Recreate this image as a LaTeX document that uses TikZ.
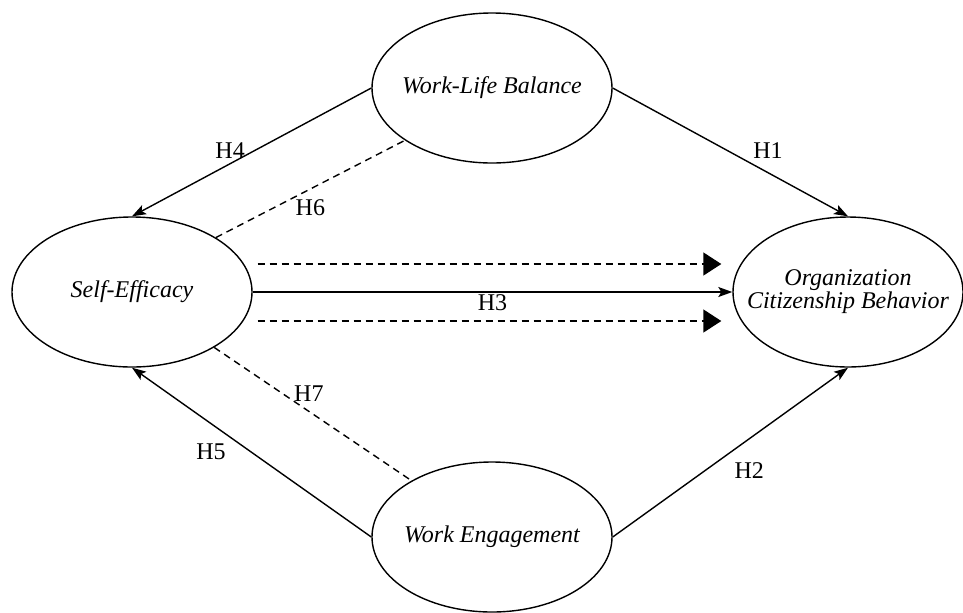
\documentclass[tikz,border=0pt]{standalone}
\usepackage{fontspec}
\setmainfont{Liberation Serif}
\usetikzlibrary{shapes,arrows.meta}

\newcommand{\constructname}[1]{\makebox[0pt]{\begin{tabular}{@{}c@{}}#1\end{tabular}}}

\begin{document}
\begin{tikzpicture}[x=0.5pt,y=-0.5pt, line width=0.7pt, >={Stealth[length=7pt,width=5pt,inset=1.5pt]},
  latent/.style={draw,ellipse,minimum width=120pt,minimum height=75pt,inner sep=0pt,font=\fontsize{12}{11}\selectfont\itshape},
  hyp/.style={font=\fontsize{12}{14}\selectfont,inner sep=1pt},
  mediation/.style={dash pattern=on 3.5pt off 2.5pt},
  bigtip/.style={-{Triangle[length=9pt,width=11.5pt]}}]
  \useasboundingbox (0,0) rectangle (963,612);

  \node[latent] (wlb) at (492,88) {\constructname{Work-Life Balance}};
  \node[latent] (se) at (132,292) {\constructname{Self-Efficacy}};
  \node[latent, minimum width=115pt] (ocb) at (848,292) {\constructname{Organization\\Citizenship Behavior}};
  \node[latent] (we) at (492,537) {\constructname{Work Engagement}};

  % direct paths
  \draw[->] (wlb.east) -- node[hyp,pos=.66,above=5.5pt] (h1) {H1} (ocb.north);
  \draw[->] (we.east) -- node[hyp,pos=.58,below=10.5pt] (h2) {H2} (ocb.south);
  \draw[->] (se.east) -- node[hyp,below=0pt] (h3) {H3} (ocb.west);
  \draw[->] (wlb.west) -- node[hyp,pos=.59,above=1.5pt] (h4) {H4} (se.north);
  \draw[->] (we.west) -- node[hyp,pos=.67,below=9pt] (h5) {H5} (se.south);

  % mediation
  \draw[mediation] (se.33) -- node[hyp,pos=.5,below=4pt] (h6) {H6} (wlb.211);
  \draw[mediation] (se.-34) -- node[hyp,pos=.48,above=3.5pt] (h7) {H7} (we.145);
  \draw[mediation,bigtip,shorten <=2.5pt,shorten >=5.5pt] ([yshift=14pt]se.east) -- ([yshift=14pt]ocb.west);
  \draw[mediation,bigtip,shorten <=2.5pt,shorten >=5.5pt] ([yshift=-14.5pt]se.east) -- ([yshift=-14.5pt]ocb.west);
\end{tikzpicture}
\end{document}
